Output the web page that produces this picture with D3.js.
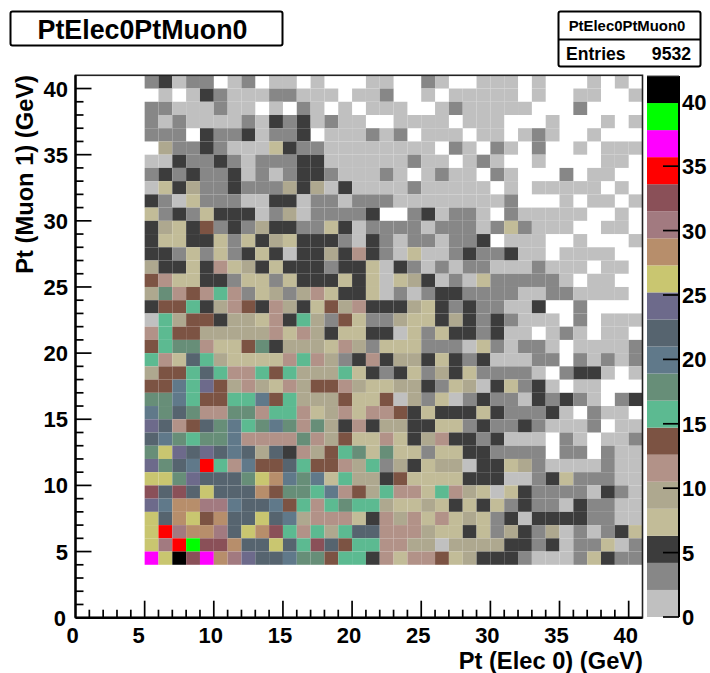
<!DOCTYPE html>
<html>
<head>
<meta charset="utf-8">
<title>PtElec0PtMuon0</title>
<script src="https://cdn.jsdelivr.net/npm/d3@7"></script>
<style>
html,body{margin:0;padding:0;background:#fff}
svg{display:block}
text{font-family:"Liberation Sans",Arial,sans-serif;fill:#000;font-weight:bold}
</style>
</head>
<body>
<svg id="chart" width="710" height="673"></svg>
<script>
const histTitle = "PtElec0PtMuon0";
const xTitle = "Pt (Elec 0) (GeV)";
const yTitle = "Pt (Muon 1) (GeV)";
const entries = 9532;
const axisMax = 41;
const zMax = 42;
const firstXBin = 5;
const firstYBin = 40;
const majorTicks = [0,5,10,15,20,25,30,35,40];
const minorTicks = d3.range(0,41);
const zTicks = [0,5,10,15,20,25,30,35,40];
const palette = ["#c0c0c0","#878787","#3c3c3c","#c2bc98","#aea88f","#b29288","#7c5343","#5cba91","#678e78","#60798a",
                 "#56646f","#6d6a8b","#c9c670","#b78e6b","#a27a80","#8a5058","#ff0000","#ff00ff","#00ff00","#000000"];
/* each row lists counts for electron-pt bins 5..40; rows run from muon-pt bin 40 down to bin 4 */
const counts = [
[3,5,1,3,3,0,1,3,0,1,1,0,1,0,0,0,1,1,0,0,3,1,0,0,1,1,1,0,1,0,0,0,1,0,1,0],
[0,1,0,1,5,3,1,1,1,3,3,1,1,1,0,1,1,3,0,0,1,0,1,1,1,1,1,0,1,0,0,1,1,0,0,1],
[3,3,1,1,1,3,1,1,0,1,0,3,1,0,1,0,1,1,1,0,0,1,3,1,1,1,1,1,0,0,0,3,0,0,0,0],
[3,1,3,1,1,1,1,3,1,5,3,5,1,3,1,1,0,0,1,1,1,1,0,1,1,1,0,0,0,1,0,0,0,1,0,1],
[3,3,3,0,5,3,3,5,1,3,3,5,0,1,1,1,3,1,3,0,1,1,1,0,1,1,0,1,3,1,0,0,1,0,0,0],
[0,9,3,3,5,3,1,1,1,7,5,3,3,1,1,1,1,1,1,1,1,0,3,1,0,3,1,0,3,0,0,1,0,1,1,1],
[1,1,5,3,3,5,3,1,3,3,3,5,5,1,1,1,1,1,1,3,1,1,0,1,3,1,0,0,1,0,0,0,0,1,1,0],
[3,5,3,5,3,3,5,1,3,1,3,5,5,3,1,1,1,3,1,0,1,3,1,1,0,3,1,0,0,0,3,0,1,1,0,0],
[1,7,5,9,3,3,5,3,3,3,9,5,9,1,5,1,1,1,1,3,1,1,1,1,1,0,1,0,1,1,1,1,1,0,1,0],
[5,3,1,7,3,3,3,1,1,5,5,1,3,3,1,3,3,3,1,1,1,1,1,1,1,1,3,0,0,0,1,0,1,1,0,1],
[7,3,5,3,7,5,5,5,1,3,9,1,3,3,3,3,5,0,0,3,5,1,3,3,1,0,3,1,1,1,1,1,0,0,1,0],
[5,9,7,5,13,3,5,3,9,5,5,3,3,7,5,1,3,3,3,3,1,3,3,3,1,3,7,3,1,1,1,0,0,1,1,0],
[5,7,7,5,5,7,3,7,5,9,7,5,5,5,3,1,5,3,1,3,3,1,3,3,5,0,1,1,1,0,0,1,0,0,0,1],
[5,5,3,7,3,7,3,5,7,5,1,5,5,9,5,11,5,3,1,7,1,1,3,5,3,3,5,1,1,0,1,1,1,1,0,0],
[9,5,5,7,5,11,7,9,5,7,5,5,5,3,5,5,7,1,5,3,1,3,1,3,3,1,1,1,3,1,1,1,0,1,1,0],
[13,11,7,7,5,5,3,7,7,3,7,5,5,5,7,5,7,1,7,9,5,1,3,1,7,3,3,3,3,3,1,0,1,1,0,0],
[9,17,11,13,11,15,11,3,7,9,3,9,11,7,5,5,7,1,3,1,3,5,5,3,3,3,3,1,1,3,3,1,1,1,1,0],
[5,13,13,15,5,9,11,13,5,11,9,5,7,13,9,11,5,5,5,9,7,5,3,5,3,3,1,1,5,0,0,3,0,0,0,0],
[1,15,9,13,13,5,9,9,7,11,5,15,9,3,13,7,3,3,9,7,7,5,9,5,3,5,3,1,1,1,0,3,0,1,1,1],
[11,15,13,13,9,9,9,9,9,11,7,11,9,5,7,7,5,5,1,7,3,7,5,5,3,5,1,1,0,1,3,1,0,1,1,0],
[13,15,17,17,11,7,7,13,17,5,9,9,9,7,11,9,3,7,7,7,3,3,3,1,7,3,1,3,3,1,0,1,1,1,1,3],
[15,11,7,22,15,9,7,7,7,7,11,15,11,9,3,5,11,5,9,9,5,7,5,3,5,1,1,1,3,3,0,3,1,3,1,3],
[9,13,13,15,22,15,11,11,15,13,15,9,9,9,15,7,5,3,5,7,3,9,5,7,3,3,3,3,1,0,3,5,5,1,0,1],
[13,13,19,15,24,13,9,11,9,7,11,9,13,13,11,9,7,7,9,9,5,3,7,9,1,5,7,3,5,1,0,1,1,0,0,0],
[17,17,19,15,13,13,15,15,19,13,15,9,9,9,13,7,7,13,1,9,3,7,1,3,5,3,3,1,5,3,5,3,1,0,3,5],
[19,17,22,17,11,11,17,17,11,15,15,11,7,9,11,7,11,11,13,5,7,5,5,5,7,5,3,3,3,5,1,0,3,1,1,0],
[24,22,11,13,22,17,19,15,17,19,17,11,17,9,5,11,5,9,9,5,5,7,7,3,5,3,3,5,3,1,1,1,3,0,1,1],
[22,19,17,15,17,17,19,11,11,11,11,17,11,9,13,7,7,11,7,5,9,11,5,5,3,5,1,1,1,0,3,1,0,1,1,3],
[17,26,24,22,24,22,19,22,9,22,5,11,9,13,15,17,7,17,7,7,3,7,7,5,5,3,3,3,3,0,3,3,0,3,1,1],
[24,17,22,19,34,15,11,19,13,13,22,15,13,13,11,9,15,3,9,5,7,9,9,1,5,5,7,9,3,1,1,1,1,3,1,1],
[26,26,17,24,22,22,22,17,26,28,19,17,19,7,15,9,9,5,13,7,7,7,7,5,5,5,1,1,3,5,7,3,3,3,1,1],
[32,22,32,22,26,22,22,22,28,13,17,17,15,19,11,13,9,15,11,11,7,15,11,9,7,1,7,5,3,3,3,3,1,5,3,1],
[24,19,28,28,30,30,19,22,22,19,13,15,11,15,17,15,15,9,7,7,9,7,5,7,5,7,3,5,3,3,1,5,3,3,1,1],
[26,22,28,26,13,28,22,22,26,22,19,9,11,11,11,7,5,11,9,11,7,11,7,9,7,3,5,1,5,5,5,5,3,3,1,1],
[26,34,30,28,28,30,22,26,28,32,15,11,15,9,15,22,22,11,11,11,9,7,7,5,7,3,9,5,3,9,1,3,1,3,5,7],
[26,30,34,38,32,32,28,22,22,26,22,15,32,22,13,15,15,11,11,9,9,1,9,9,9,9,5,5,3,5,1,3,3,7,1,3],
[36,26,41,32,36,28,30,24,22,22,19,17,17,13,15,15,5,11,7,11,11,13,7,9,5,5,5,3,1,1,1,3,7,5,3,3]
];

const svg = d3.select("#chart");
const x = d3.scaleLinear().domain([0,axisMax]).range([75.5,642.5]);
const y = d3.scaleLinear().domain([0,axisMax]).range([617.7,75.3]);
const z = d3.scaleLinear().domain([0,zMax]).range([617,76]);
const color = d3.scaleQuantize().domain([0,zMax]).range(palette);

/* title and stats boxes */
svg.append("rect").attr("x",10.5).attr("y",11.5).attr("width",272).attr("height",34).attr("rx",2)
   .attr("fill","#fff").attr("stroke","#000").attr("stroke-width",2);
svg.append("text").attr("x",142.5).attr("y",39).attr("text-anchor","middle").attr("font-size",26.8).text(histTitle);
svg.append("rect").attr("x",558.5).attr("y",11.5).attr("width",142).attr("height",55).attr("rx",2)
   .attr("fill","#fff").attr("stroke","#000").attr("stroke-width",2);
svg.append("line").attr("x1",558).attr("x2",701).attr("y1",39.5).attr("y2",39.5).attr("stroke","#000").attr("stroke-width",2);
svg.append("text").attr("x",627).attr("y",31).attr("text-anchor","middle").attr("font-size",14.9).text(histTitle);
svg.append("text").attr("x",566).attr("y",60).attr("font-size",17.6).text("Entries");
svg.append("text").attr("x",691).attr("y",60).attr("text-anchor","end").attr("font-size",17.6).text(entries);

/* histogram cells */
const cells = counts.flatMap((row,r)=>row.map((v,c)=>({bx:firstXBin+c, by:firstYBin-r, v})));
svg.append("g").selectAll("rect").data(cells.filter(d=>d.v>0)).join("rect")
  .attr("x",d=>x(d.bx)).attr("y",d=>y(d.by+1))
  .attr("width",d=>x(d.bx+1)-x(d.bx)).attr("height",d=>y(d.by)-y(d.by+1))
  .attr("fill",d=>color(d.v));

/* frame */
svg.append("rect").attr("x",x(0)).attr("y",y(axisMax)).attr("width",x(axisMax)-x(0)).attr("height",y(0)-y(axisMax))
   .attr("fill","none").attr("stroke","#222").attr("stroke-width",1.6);

/* ticks point inward */
function tickSet(sel,vals,size,scale,horizontal){
  sel.selectAll("line").data(vals).join("line")
    .attr("stroke","#000").attr("stroke-width",1.7)
    .attr(horizontal?"x1":"y1",d=>scale(d)).attr(horizontal?"x2":"y2",d=>scale(d))
    .attr(horizontal?"y1":"x1",horizontal?y(0):x(0))
    .attr(horizontal?"y2":"x2",horizontal?y(0)-size:x(0)+size);
}
tickSet(svg.append("g"),minorTicks.filter(d=>d%5),8,x,true);
tickSet(svg.append("g"),majorTicks.filter(d=>d>0),17,x,true);
tickSet(svg.append("g"),minorTicks.filter(d=>d%5),8,y,false);
tickSet(svg.append("g"),majorTicks.filter(d=>d>0),16,y,false);
svg.append("line").attr("x1",x(0)).attr("x2",x(axisMax)).attr("y1",y(0)).attr("y2",y(0)).attr("stroke","#000").attr("stroke-width",2.4);
svg.append("line").attr("x1",x(0)).attr("x2",x(0)).attr("y1",y(0)).attr("y2",y(axisMax)).attr("stroke","#000").attr("stroke-width",2.4);

svg.append("g").selectAll("text").data(majorTicks).join("text")
  .attr("x",d=>x(d)-(d>0&&d<10?6:3)).attr("y",642.5).attr("text-anchor","middle").attr("font-size",22).text(d=>d);
svg.append("g").selectAll("text").data(majorTicks).join("text")
  .attr("x",d=>d===0?66:68).attr("y",d=>y(d)+8).attr("text-anchor","end").attr("font-size",22).text(d=>d);

svg.append("text").attr("x",643).attr("y",669).attr("text-anchor","end").attr("font-size",23.7).text(xTitle);
svg.append("text").attr("transform","translate(33,75) rotate(-90)").attr("text-anchor","end").attr("font-size",23.7).text(yTitle);

/* colour bar */
const bandW = zMax/palette.length;
svg.append("g").selectAll("rect").data(palette).join("rect")
  .attr("x",647).attr("width",31)
  .attr("y",(d,i)=>z((i+1)*bandW)).attr("height",(d,i)=>z(i*bandW)-z((i+1)*bandW))
  .attr("fill",d=>d);
svg.append("line").attr("x1",679).attr("x2",679).attr("y1",z(zMax)).attr("y2",z(0)).attr("stroke","#000").attr("stroke-width",2);
svg.append("line").attr("x1",647).attr("x2",679).attr("y1",z(zMax)).attr("y2",z(zMax)).attr("stroke","#444").attr("stroke-width",1);
svg.append("g").selectAll("line").data(zTicks).join("line")
  .attr("x1",663).attr("x2",679).attr("y1",d=>z(d)).attr("y2",d=>z(d)).attr("stroke","#000").attr("stroke-width",1.7);
svg.append("g").selectAll("text").data(zTicks).join("text")
  .attr("x",682).attr("y",d=>z(d)+8).attr("font-size",22).text(d=>d);
</script>
</body>
</html>
